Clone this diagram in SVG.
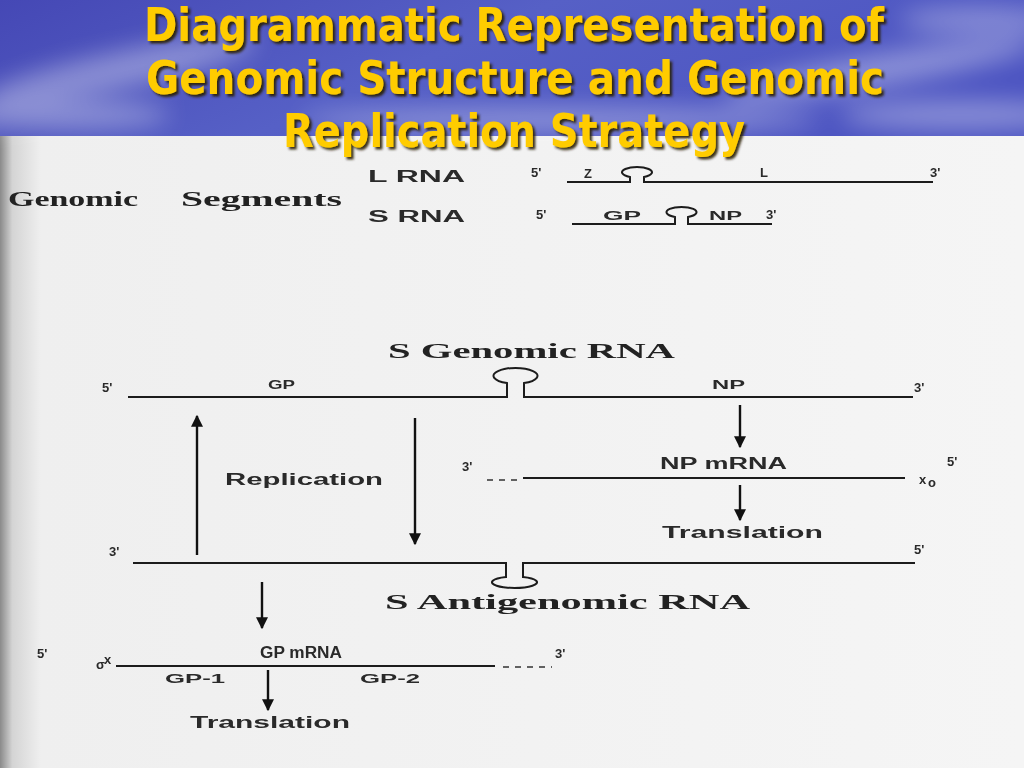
<svg xmlns="http://www.w3.org/2000/svg" width="1024" height="768" viewBox="0 0 1024 768">
<defs>
<linearGradient id="sky" x1="0" y1="0" x2="1" y2="0.3">
<stop offset="0" stop-color="#4548b5"/>
<stop offset="0.5" stop-color="#5660c6"/>
<stop offset="1" stop-color="#4d55c2"/>
</linearGradient>
<linearGradient id="paper" x1="0" y1="0" x2="1" y2="0">
<stop offset="0" stop-color="#8a8a8a"/>
<stop offset="0.012" stop-color="#d4d4d4"/>
<stop offset="0.04" stop-color="#efefef"/>
<stop offset="1" stop-color="#f5f5f5"/>
</linearGradient>
<filter id="blur" x="-20%" y="-50%" width="140%" height="200%"><feGaussianBlur stdDeviation="12"/></filter>
<filter id="soft"><feGaussianBlur stdDeviation="0.4"/></filter>
<filter id="shadow" x="-5%" y="-20%" width="110%" height="140%">
<feDropShadow dx="2.5" dy="2.5" stdDeviation="0.8" flood-color="#2a1c00" flood-opacity="0.9"/>
</filter>
<marker id="ah" viewBox="0 0 10 10" refX="9" refY="5" markerWidth="5" markerHeight="5" orient="auto" markerUnits="strokeWidth">
<path d="M0,0 L10,5 L0,10 z" fill="#111"/>
</marker>
<style>
.ttl{font-family:"Liberation Sans Narrow","DejaVu Sans Condensed","DejaVu Sans",sans-serif;font-weight:bold;font-size:46px;fill:#ffcc00;text-anchor:middle}
.lb{font-family:"Liberation Sans",Arial,sans-serif;font-weight:bold;font-size:16px;fill:#2a2a2a}
.sm{font-family:"Liberation Sans",Arial,sans-serif;font-weight:bold;font-size:13px;fill:#2a2a2a}
.sf{font-family:"Liberation Serif","Times New Roman",serif;font-weight:bold;font-size:20px;fill:#222}
.ln{fill:none;stroke:#1e1e1e;stroke-width:2}
.dash{fill:none;stroke:#333;stroke-width:1.6;stroke-dasharray:6 6}
.ar{fill:none;stroke:#111;stroke-width:2.4;marker-end:url(#ah)}
</style>
</defs>
<rect x="0" y="0" width="1024" height="768" fill="url(#paper)"/>
<g id="header">
<rect x="0" y="0" width="1024" height="136" fill="url(#sky)"/>
<g opacity="0.35" filter="url(#blur)" fill="#ffffff">
<ellipse cx="120" cy="70" rx="140" ry="18" transform="rotate(-12 120 70)"/>
<ellipse cx="60" cy="115" rx="110" ry="14"/>
<ellipse cx="880" cy="70" rx="160" ry="16" transform="rotate(-10 880 70)"/>
<ellipse cx="960" cy="115" rx="120" ry="14"/>
<ellipse cx="560" cy="120" rx="260" ry="12"/>
<ellipse cx="980" cy="20" rx="80" ry="12"/>
</g>
</g>
<g id="title" filter="url(#shadow)">
<text class="ttl" x="514" y="41" textLength="740" lengthAdjust="spacingAndGlyphs">Diagrammatic Representation of</text>
<text class="ttl" x="515" y="94" textLength="738" lengthAdjust="spacingAndGlyphs">Genomic Structure and Genomic</text>
<text class="ttl" x="514" y="147" textLength="462" lengthAdjust="spacingAndGlyphs">Replication Strategy</text>
</g>
<g id="genomic-segments" filter="url(#soft)">
<text class="sf" x="8" y="206" textLength="130" lengthAdjust="spacingAndGlyphs">Genomic</text>
<text class="sf" x="181" y="206" textLength="161" lengthAdjust="spacingAndGlyphs">Segments</text>
</g>
<g id="l-rna" filter="url(#soft)">
<text class="lb" x="368" y="182" font-size="18" textLength="97" lengthAdjust="spacingAndGlyphs">L RNA</text>
<text class="sm" x="531" y="177">5'</text>
<text class="sm" x="584" y="178" font-size="14">Z</text>
<text class="sm" x="760" y="177">L</text>
<text class="sm" x="930" y="177">3'</text>
<path class="ln" d="M567,182 H630 V177 A15,5.3 0 1 1 644,177 V182 H933"/>
</g>
<g id="s-rna" filter="url(#soft)">
<text class="lb" x="368" y="222" font-size="18" textLength="97" lengthAdjust="spacingAndGlyphs">S RNA</text>
<text class="sm" x="536" y="219">5'</text>
<text class="sm" x="603" y="220" font-size="14" textLength="38" lengthAdjust="spacingAndGlyphs">GP</text>
<text class="sm" x="709" y="220" font-size="14" textLength="33" lengthAdjust="spacingAndGlyphs">NP</text>
<text class="sm" x="766" y="219">3'</text>
<path class="ln" d="M572,224 H675 V217 A15,5.3 0 1 1 688,217 V224 H772"/>
</g>
<g id="s-genomic-rna" filter="url(#soft)">
<text class="sf" x="388" y="358" textLength="287" lengthAdjust="spacingAndGlyphs">S  Genomic  RNA</text>
<text class="sm" x="102" y="392">5'</text>
<text class="sm" x="268" y="389" textLength="27" lengthAdjust="spacingAndGlyphs">GP</text>
<text class="sm" x="712" y="389" textLength="33" lengthAdjust="spacingAndGlyphs">NP</text>
<text class="sm" x="914" y="392">3'</text>
<path class="ln" d="M128,397 H507 V383 A22,7.8 0 1 1 524,383 V397 H913"/>
</g>
<g id="replication" filter="url(#soft)">
<text class="lb" x="225" y="485" textLength="158" lengthAdjust="spacingAndGlyphs">Replication</text>
</g>
<g id="np-mrna" filter="url(#soft)">
<text class="sm" x="462" y="471">3'</text>
<text class="lb" x="660" y="469" textLength="127" lengthAdjust="spacingAndGlyphs">NP mRNA</text>
<text class="sm" x="947" y="466">5'</text>
<text class="sm" x="919" y="484" font-size="11">x</text>
<text class="sm" x="928" y="487" font-size="9">o</text>
<path class="dash" d="M487,480 H517"/>
<path class="ln" d="M523,478 H905"/>
</g>
<g id="np-translation" filter="url(#soft)">
<text class="lb" x="662" y="538" textLength="161" lengthAdjust="spacingAndGlyphs">Translation</text>
</g>
<g id="s-antigenomic-rna" filter="url(#soft)">
<text class="sm" x="109" y="556">3'</text>
<text class="sm" x="914" y="554">5'</text>
<path class="ln" d="M133,563 H506 V577 A22.5,5.7 0 1 0 523,577 V563 H915"/>
<text class="sf" x="385" y="609" textLength="365" lengthAdjust="spacingAndGlyphs">S   Antigenomic   RNA</text>
</g>
<g id="gp-mrna" filter="url(#soft)">
<text class="sm" x="37" y="658">5'</text>
<text class="lb" x="260" y="658" textLength="82" lengthAdjust="spacingAndGlyphs">GP mRNA</text>
<text class="sm" x="555" y="658">3'</text>
<text class="sm" x="96" y="669" font-size="11">σ</text>
<text class="sm" x="104" y="664" font-size="9">x</text>
<text class="sm" x="165" y="683" textLength="60" lengthAdjust="spacingAndGlyphs">GP-1</text>
<text class="sm" x="360" y="683" textLength="60" lengthAdjust="spacingAndGlyphs">GP-2</text>
<path class="ln" d="M116,666 H495"/>
<path class="dash" d="M503,667 H552"/>
</g>
<g id="gp-translation" filter="url(#soft)">
<text class="lb" x="190" y="728" textLength="160" lengthAdjust="spacingAndGlyphs">Translation</text>
</g>
<g id="connectors">
<path class="ar" d="M197,555 V416"/>
<path class="ar" d="M415,418 V544"/>
<path class="ar" d="M740,405 V447"/>
<path class="ar" d="M740,485 V520"/>
<path class="ar" d="M262,582 V628"/>
<path class="ar" d="M268,670 V710"/>
</g>
</svg>
